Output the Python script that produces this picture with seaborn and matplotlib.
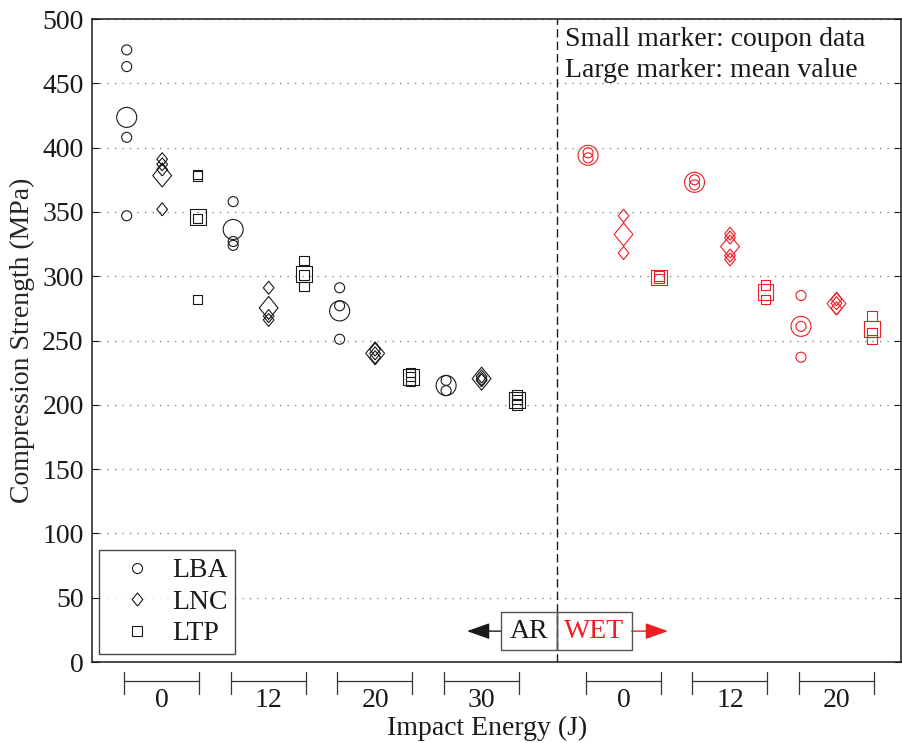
import numpy as np
import pandas as pd
import matplotlib
matplotlib.use("Agg")
import matplotlib.pyplot as plt
from matplotlib.lines import Line2D
from matplotlib.patches import Rectangle
import seaborn as sns

# ---------------------------------------------------------------- data
materials = ["LBA", "LNC", "LTP"]
ar_energies = [0, 12, 20, 30]
wet_energies = [0, 12, 20]

# coupon compression strengths (MPa), one list per impact energy
ar_lba = [[476, 463, 408, 347], [358, 327, 324], [291, 277, 251], [219, 211]]
ar_lnc = [[391, 387, 383, 352], [291, 269, 266], [243, 240, 237], [222, 220, 219]]
ar_ltp = [[379, 378, 345, 282], [312, 301, 292], [225, 222, 218], [208, 204, 200]]
wet_lba = [[396, 392], [375, 371], [285, 261, 237]]
wet_lnc = [[347, 318], [333, 330, 316, 313], [282, 279, 275]]
wet_ltp = [[300, 298], [293, 282], [269, 256, 251]]

energy_labels = ["0", "12", "20", "30", "0", "12", "20"]

# ---------------------------------------------------------------- table
rows = []
for cond, energies, sets, offset in [
    ("AR", ar_energies, [ar_lba, ar_lnc, ar_ltp], 0),
    ("WET", wet_energies, [wet_lba, wet_lnc, wet_ltp], 13),
]:
    for gi, energy in enumerate(energies):
        for mi, mat in enumerate(materials):
            slot = offset + 3 * gi + mi
            for v in sets[mi][gi]:
                rows.append(dict(condition=cond, energy=energy, material=mat,
                                 slot=slot, strength=v))
coupons = pd.DataFrame(rows)
means = (coupons.groupby(["condition", "energy", "material", "slot"], as_index=False)
         ["strength"].mean())

# ---------------------------------------------------------------- style
sns.set_theme(style="ticks")
plt.rcParams["font.family"] = ["Liberation Serif", "DejaVu Serif"]
FS = 20

colors = {"AR": "#1a1a1a", "WET": "#ee1c25"}
diamond = [(0, -1), (0.82, 0), (0, 1), (-0.82, 0), (0, -1)]
markers = {"LBA": "o", "LNC": diamond, "LTP": "s"}
small_sz = {"LBA": 52, "LNC": 88, "LTP": 46}
large_sz = {"LBA": 207, "LNC": 274, "LTP": 132}

fig = plt.figure(figsize=(9.02, 7.43), dpi=100)
W, H = 902, 743
x_left, x_right, y_top, y_bot = 92, 901, 19, 662
ax = fig.add_axes([x_left / W, (H - y_bot) / H,
                   (x_right - x_left) / W, (y_bot - y_top) / H])

slot_px, slot0_px = 35.49, 126.7
ax.set_xlim((x_left - slot0_px) / slot_px, (x_right - slot0_px) / slot_px)
ax.set_ylim(0, 500)

for (cond, mat), sub in coupons.groupby(["condition", "material"]):
    c = colors[cond]
    sns.scatterplot(data=sub, x="slot", y="strength", marker=markers[mat],
                    s=small_sz[mat], color=c, facecolor="none", edgecolor=c,
                    linewidth=0.8, ax=ax, legend=False, zorder=3)
for (cond, mat), sub in means.groupby(["condition", "material"]):
    c = colors[cond]
    sns.scatterplot(data=sub, x="slot", y="strength", marker=markers[mat],
                    s=large_sz[mat], color=c, facecolor="none", edgecolor=c,
                    linewidth=0.8, ax=ax, legend=False, zorder=3)

# axes furniture
ax.set_xlabel("")
ax.set_ylabel("Compression Strength (MPa)", fontsize=FS, labelpad=5)
ax.set_yticks(np.arange(0, 501, 50))
ax.set_xticks([])
ax.tick_params(axis="y", direction="in", length=5, width=0.8, left=True,
               right=True, labelsize=FS, pad=6, colors="#1a1a1a")
ax.yaxis.grid(True, linestyle=(0, (1, 5)), color="#777777", linewidth=0.9)
ax.set_axisbelow(True)
for sp in ax.spines.values():
    sp.set_visible(True)
    sp.set_linewidth(1.1)
    sp.set_color("#1a1a1a")

# AR / WET divider
split = 12.13
ax.axvline(split, color="#1a1a1a", linestyle=(0, (6, 3)), linewidth=1.0, zorder=2)

# energy-group brackets under the axis
xt = ax.get_xaxis_transform()
starts = [3 * g for g in range(4)] + [13 + 3 * g for g in range(3)]
for st, lab in zip(starts, energy_labels):
    a, b = st - 0.07, st + 2.05
    ax.plot([a, b], [-0.0295, -0.0295], transform=xt, color="#333333",
            lw=0.9, clip_on=False)
    for xx in (a, b):
        ax.plot([xx, xx], [-0.0156, -0.0498], transform=xt, color="#333333",
                lw=0.9, clip_on=False)
    ax.text(st + 1, -0.0595, lab, transform=xt, ha="center", va="center",
            fontsize=FS, color="#1a1a1a")

fig.text(487 / W, 1 - 735 / H, "Impact Energy (J)", ha="center",
         va="baseline", fontsize=FS, color="#1a1a1a")

# condition box with arrows
box_y0, box_h, mid_y = 9.3, 29.5, 24
ar_x0, wet_x1 = 10.54, 14.23
ax.add_patch(Rectangle((ar_x0, box_y0), split - ar_x0, box_h, fill=False,
                       edgecolor="#555555", lw=1.0, zorder=4))
ax.add_patch(Rectangle((split, box_y0), wet_x1 - split, box_h, fill=False,
                       edgecolor="#555555", lw=1.0, zorder=4))
ax.text((ar_x0 + split) / 2, mid_y, "AR", ha="center", va="center",
        fontsize=FS, color="#1a1a1a", zorder=5)
ax.text((split + wet_x1) / 2, mid_y, "WET", ha="center", va="center",
        fontsize=FS, color=colors["WET"], zorder=5)
ax.annotate("", xy=(9.59, mid_y), xytext=(ar_x0, mid_y),
            arrowprops=dict(arrowstyle="-|>,head_length=0.7,head_width=0.25",
                            color="#1a1a1a", lw=1.0, shrinkA=0, shrinkB=0,
                            mutation_scale=20))
ax.annotate("", xy=(15.25, mid_y), xytext=(wet_x1, mid_y),
            arrowprops=dict(arrowstyle="-|>,head_length=0.7,head_width=0.25",
                            color=colors["WET"], lw=1.0, shrinkA=0, shrinkB=0,
                            mutation_scale=20))

# marker key text
tx = (565 - x_left) / (x_right - x_left)
ax.text(tx, (y_bot - 46) / (y_bot - y_top), "Small marker: coupon data",
        transform=ax.transAxes, fontsize=FS, va="baseline", color="#1a1a1a")
ax.text(tx, (y_bot - 77) / (y_bot - y_top), "Large marker: mean value",
        transform=ax.transAxes, fontsize=FS, va="baseline", color="#1a1a1a")

# legend
handles = [
    Line2D([], [], ls="none", marker="o", ms=7.2, mfc="none", mec="#1a1a1a", mew=0.8),
    Line2D([], [], ls="none", marker=diamond, ms=9.4, mfc="none", mec="#1a1a1a", mew=0.8),
    Line2D([], [], ls="none", marker="s", ms=6.8, mfc="none", mec="#1a1a1a", mew=0.8),
]
leg = ax.legend(handles, materials, loc="lower left",
                bbox_to_anchor=((99 - x_left) / (x_right - x_left),
                                (y_bot - 654) / (y_bot - y_top)),
                borderaxespad=0, fontsize=FS, frameon=True, fancybox=False,
                handlelength=2.2, handletextpad=0.15, labelspacing=0.22,
                borderpad=0.27)
leg.get_frame().set_edgecolor("#1a1a1a")
leg.get_frame().set_linewidth(1.0)
for t in leg.get_texts():
    t.set_color("#1a1a1a")

fig.savefig("out.png", dpi=100)
